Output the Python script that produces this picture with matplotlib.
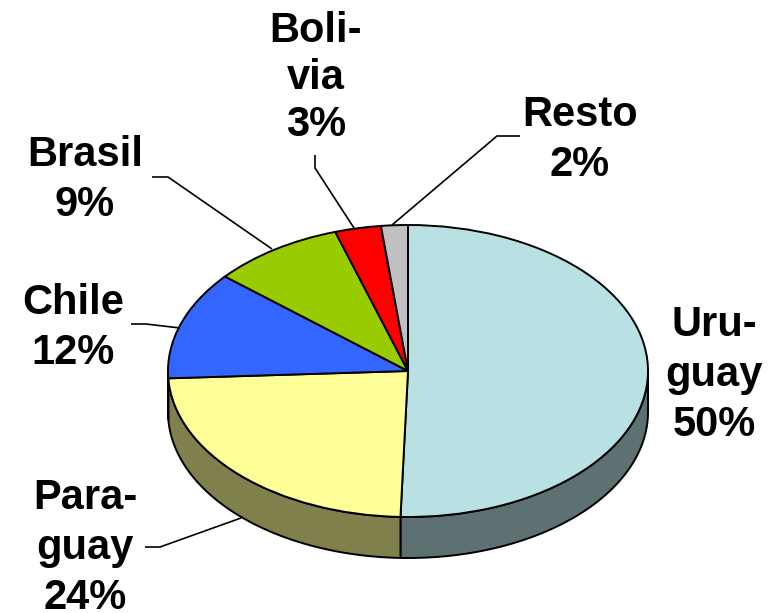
import numpy as np
import matplotlib
matplotlib.use("Agg")
import matplotlib.pyplot as plt
from matplotlib.colors import to_rgb
from matplotlib.transforms import Affine2D, Bbox

# shares, printed labels are the rounded ones
countries = ["Uru-\nguay", "Para-\nguay", "Chile", "Brasil", "Boli-\nvia", "Resto"]
shares = [50.5, 23.7, 12.0, 8.9, 3.1, 1.8]
printed = ["50%", "24%", "12%", "9%", "3%", "2%"]
colors = ["#B9E0E3", "#FFFF99", "#3366FF", "#99CC00", "#FF0000", "#C0C0C0"]

W, H = 776, 613
cx, cy, rx, ry, depth = 408, 371, 240, 146, 41
edge = dict(edgecolor="black", linewidth=1.4)

plt.rcParams["font.family"] = ["Liberation Sans", "DejaVu Sans"]
fig = plt.figure(figsize=(W / 100, H / 100), dpi=100)
ax = fig.add_axes([0, 0, 1, 1])

# pixel positions, y going down like in the picture
px = Affine2D().scale(1, -1).translate(0, H)

# side wall first, only the front half can be seen
d = depth / ry
ends = np.cumsum(shares) / np.sum(shares) * 360
starts = np.r_[0, ends[:-1]]
for a, b, c in zip(starts, ends, colors):
    a, b = max(a, 90), min(b, 270)
    if a >= b:
        continue
    t = np.radians(np.linspace(a, b, 80))
    xs = np.sin(t)
    ys = np.cos(t)
    dark = tuple(v * 0.5 for v in to_rgb(c))
    ax.fill(np.r_[xs, xs[::-1]], np.r_[ys, ys[::-1] - d], facecolor=dark, **edge)

# top of the pie
ax.pie(shares, colors=colors, startangle=90, counterclock=False, radius=1,
       wedgeprops=edge)
ax.set_aspect("auto")
ax.set_xlim(-cx / rx, (W - cx) / rx)
ax.set_ylim((cy - H) / ry, cy / ry)
ax.axis("off")

# leader lines
leaders = [
    ([145, 160, 241], [547, 547, 518]),
    ([131, 146, 180], [324, 324, 328]),
    ([152, 168, 272], [177, 177, 249]),
    ([315, 315, 354], [155, 168, 228]),
    ([520, 497, 392], [136, 136, 225]),
]
for xs, ys in leaders:
    ax.plot(xs, ys, color="black", lw=1.2, transform=px,
            solid_capstyle="butt", clip_on=False)

# labels
label_pos = [(714, 375), (85, 548), (73, 328), (85, 180), (316, 78), (580, 140)]
linespace = [1.31, 1.31, 1.31, 1.31, 1.24, 1.31]
for name, pct, (x, y), ls in zip(countries, printed, label_pos, linespace):
    t = ax.text(x, y, name + "\n" + pct, transform=px, ha="center", va="center",
                multialignment="center", fontsize=30, fontweight="bold",
                linespacing=ls)
    if name.startswith("Uru"):
        # the label runs off the chart area on the right
        t.set_clip_box(Bbox([[0, 0], [762, H]]))
        t.set_clip_on(True)

fig.savefig("out.png", dpi=100, facecolor="white")
